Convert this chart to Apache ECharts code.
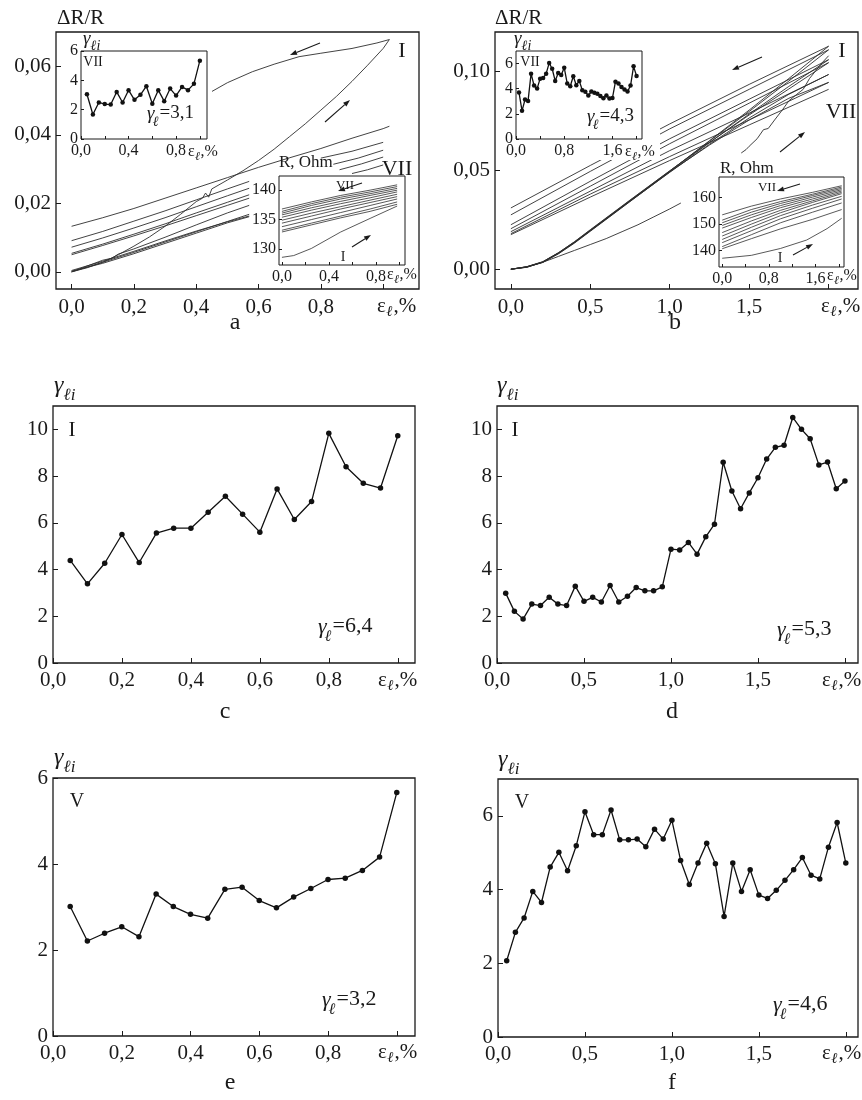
<!DOCTYPE html>
<html><head><meta charset="utf-8">
<script src="https://cdn.jsdelivr.net/npm/echarts@6/dist/echarts.min.js"></script>
<style>html,body{margin:0;padding:0;background:#fff}#c{width:862px;height:1100px}</style>
</head><body><div id="c"></div>
<script>
// ---------- DATA ----------
// Panel a (main): ΔR/R vs ε, cycles up to 1.0 %
const aLoadI = [[0,0],[0.05,0.0012],[0.1,0.0028],[0.15,0.005],[0.2,0.0075],[0.25,0.0102],[0.3,0.0133],[0.35,0.0168],[0.4,0.0205],[0.42,0.0215],[0.43,0.023],[0.44,0.0218],[0.45,0.0242],[0.5,0.0268],[0.55,0.0295],[0.6,0.0325],[0.65,0.0358],[0.7,0.0395],[0.75,0.0432],[0.8,0.0472],[0.85,0.0512],[0.9,0.0556],[0.95,0.0603],[1.0,0.0652],[1.02,0.0678]];
const aUnloadI = [[1.02,0.0678],[0.98,0.0668],[0.9,0.0652],[0.8,0.0638],[0.73,0.0628],[0.65,0.0606],[0.58,0.0584],[0.5,0.0552],[0.43,0.0516],[0.35,0.048],[0.25,0.044]];
const aCycleLong = [[0,0.0133],[0.1,0.0158],[0.2,0.0185],[0.3,0.0215],[0.4,0.0245],[0.5,0.0275],[0.6,0.0305],[0.7,0.0333],[0.8,0.036],[0.9,0.039],[1.0,0.0418],[1.02,0.0425]];
const aUp1 = [[0,0.0091],[0.1,0.0118],[0.2,0.0148],[0.3,0.0178],[0.4,0.021],[0.5,0.0242],[0.57,0.0264]];
const aUp2 = [[0,0.0072],[0.1,0.0099],[0.2,0.0128],[0.3,0.0158],[0.4,0.019],[0.5,0.0222],[0.57,0.0244]];
const aUp3 = [[0,0.0054],[0.1,0.0081],[0.2,0.011],[0.3,0.014],[0.4,0.0172],[0.5,0.0203],[0.57,0.0225]];
const aUp4 = [[0,0.005],[0.1,0.0077],[0.2,0.0105],[0.3,0.0134],[0.4,0.0164],[0.5,0.0194],[0.57,0.0215]];
const aLo1 = [[0,0],[0.1,0.0028],[0.2,0.0057],[0.3,0.0087],[0.4,0.0117],[0.5,0.0147],[0.57,0.0168]];
const aLo2 = [[0,0.0004],[0.1,0.0031],[0.2,0.006],[0.3,0.009],[0.4,0.0119],[0.5,0.0146],[0.57,0.0163]];
const aLo3 = [[0,0],[0.1,0.0034],[0.13,0.004],[0.15,0.0052],[0.2,0.0067],[0.3,0.0101],[0.4,0.0137],[0.5,0.0172],[0.57,0.0194]];
const aLo4 = [[0,0.0002],[0.1,0.0025],[0.2,0.0053],[0.3,0.0083],[0.4,0.0113],[0.5,0.0143],[0.57,0.0161]];
const aSeg1 = [[0.80,0.0332],[0.9,0.0352],[1.0,0.0378]];
const aSeg2 = [[0.84,0.0314],[0.92,0.0332],[1.0,0.0355]];
const aSeg3 = [[0.86,0.0298],[0.93,0.0315],[1.0,0.0335]];
const aSeg4 = [[0.9,0.0287],[0.95,0.0298],[1.0,0.0312]];
// Panel a inset: R, Ohm
const aRI = [[0,128.6],[0.1,128.9],[0.25,130.1],[0.5,132.9],[0.75,135.2],[0.98,137.3]];
const aR1 = [[0,136.8],[0.25,138.0],[0.5,139.1],[0.75,140.0],[0.98,140.9]];
const aR2 = [[0,136.4],[0.25,137.7],[0.5,138.8],[0.75,139.7],[0.98,140.6]];
const aR3 = [[0,136.1],[0.25,137.4],[0.5,138.5],[0.75,139.4],[0.98,140.3]];
const aR4 = [[0,135.8],[0.25,137.0],[0.5,138.1],[0.75,139.1],[0.98,140.0]];
const aR5 = [[0,135.4],[0.25,136.6],[0.5,137.7],[0.75,138.7],[0.98,139.7]];
const aR6 = [[0,134.9],[0.25,136.1],[0.5,137.2],[0.75,138.3],[0.98,139.3]];
const aR7 = [[0,134.4],[0.25,135.6],[0.5,136.8],[0.75,137.9],[0.98,138.9]];
const aR8 = [[0,133.8],[0.25,135.0],[0.5,136.2],[0.75,137.4],[0.98,138.5]];
const aR9 = [[0,133.2],[0.25,134.4],[0.5,135.6],[0.75,136.8],[0.98,138.0]];
const aR10 = [[0,132.9],[0.25,134.1],[0.5,135.3],[0.75,136.4],[0.98,137.6]];
// Panel b (main)
const bLoad1 = [[0,0],[0.1,0.001],[0.2,0.0035],[0.3,0.008],[0.4,0.0135],[0.5,0.0195],[0.75,0.0345],[1.0,0.0495],[1.25,0.065],[1.5,0.0805],[1.75,0.0965],[2.0,0.1128]];
const bLoad2 = [[0,0],[0.1,0.0012],[0.2,0.0037],[0.3,0.0083],[0.4,0.0138],[0.5,0.0198],[0.75,0.0348],[1.0,0.0497],[1.25,0.0648],[1.5,0.0798],[1.75,0.0952],[2.0,0.111]];
const bLoad3 = [[0,0],[0.1,0.0011],[0.2,0.0034],[0.3,0.0078],[0.4,0.0132],[0.5,0.0192],[0.75,0.0342],[1.0,0.0492],[1.25,0.0640],[1.5,0.0785],[1.75,0.0925],[2.0,0.106]];
const bLoad4 = [[0,0],[0.1,0.0013],[0.2,0.0038],[0.3,0.0084],[0.4,0.0139],[0.5,0.02],[0.75,0.035],[1.0,0.0498],[1.25,0.0642],[1.5,0.0780],[1.75,0.0912],[2.0,0.1045]];
const bLoad5 = [[0,0],[0.1,0.001],[0.2,0.0036],[0.3,0.0081],[0.4,0.0134],[0.5,0.0194],[0.75,0.0344],[1.0,0.049],[1.25,0.0632],[1.5,0.0765],[1.75,0.0885],[2.0,0.0985]];
const bLoad6 = [[0,0],[0.1,0.0012],[0.2,0.0036],[0.3,0.0082],[0.4,0.0136],[0.5,0.0196],[0.75,0.0346],[1.0,0.0493],[1.25,0.0628],[1.5,0.0755],[1.75,0.0865],[2.0,0.0945]];
const bLoadI1 = [[0,0],[0.1,0.0012],[0.2,0.0035],[0.3,0.0065],[0.4,0.0095],[0.5,0.0125],[0.6,0.0155],[0.7,0.019],[0.8,0.0225],[0.9,0.0265],[1.0,0.0305],[1.07,0.0335]];
const bLoadI2 = [[1.45,0.0588],[1.48,0.0605],[1.5,0.0622],[1.55,0.066],[1.59,0.0706],[1.62,0.0712],[1.66,0.0755],[1.71,0.0807],[1.75,0.0852],[1.8,0.0885],[1.84,0.091],[1.88,0.0965],[1.92,0.1005],[1.96,0.1045],[2.0,0.108]];
const bUn1 = [[2.0,0.1128],[1.5,0.0935],[1.0,0.0735],[0.5,0.0525],[0,0.031]];
const bUn2 = [[2.0,0.111],[1.5,0.091],[1.0,0.071],[0.5,0.0495],[0,0.0275]];
const bUn3 = [[2.0,0.106],[1.5,0.086],[1.0,0.066],[0.5,0.0445],[0,0.0225]];
const bUn4 = [[2.0,0.1045],[1.5,0.084],[1.0,0.0635],[0.5,0.042],[0,0.0205]];
const bUn5 = [[2.0,0.0985],[1.5,0.079],[1.0,0.06],[0.5,0.0395],[0,0.019]];
const bUn6 = [[2.0,0.0945],[1.5,0.0755],[1.0,0.057],[0.5,0.038],[0,0.018]];
const bUn7 = [[2.0,0.091],[1.5,0.073],[1.0,0.055],[0.5,0.0365],[0,0.0175]];
// Panel b inset: R, Ohm
const bRI = [[0,137.1],[0.5,138.2],[1.0,140.8],[1.45,144.0],[1.8,148.3],[2.05,152.2]];
const bR1 = [[0,140.7],[0.5,144.5],[1.0,148.2],[1.55,151.8],[2.05,155.5]];
const bR2 = [[0,141.5],[0.5,146.0],[1.0,150.5],[1.55,154.5],[2.05,158.0]];
const bR3 = [[0,143.0],[0.5,147.5],[1.0,152.0],[1.55,156.0],[2.05,159.5]];
const bR4 = [[0,144.2],[0.5,148.8],[1.0,153.2],[1.55,157.2],[2.05,160.5]];
const bR5 = [[0,145.5],[0.5,150.0],[1.0,154.3],[1.55,158.2],[2.05,161.5]];
const bR6 = [[0,146.8],[0.5,151.2],[1.0,155.2],[1.55,158.8],[2.05,162.0]];
const bR7 = [[0,148.5],[0.5,152.5],[1.0,156.2],[1.55,159.5],[2.05,162.5]];
const bR8 = [[0,149.5],[0.5,153.5],[1.0,157.0],[1.55,160.2],[2.05,163.0]];
const bR9 = [[0,150.5],[0.5,154.5],[1.0,157.8],[1.55,160.8],[2.05,163.5]];
const bR10 = [[0,151.5],[0.5,155.5],[1.0,158.5],[1.55,161.3],[2.05,164.0]];
const bR11 = [[0,153.5],[0.5,156.8],[1.0,159.5],[1.55,162.0],[2.05,164.5]];
// γ_ℓi series
const eps20 = [0.05,0.10,0.15,0.20,0.25,0.30,0.35,0.40,0.45,0.50,0.55,0.60,0.65,0.70,0.75,0.80,0.85,0.90,0.95,1.00];
const eps40 = [0.05,0.10,0.15,0.20,0.25,0.30,0.35,0.40,0.45,0.50,0.55,0.60,0.65,0.70,0.75,0.80,0.85,0.90,0.95,1.00,1.05,1.10,1.15,1.20,1.25,1.30,1.35,1.40,1.45,1.50,1.55,1.60,1.65,1.70,1.75,1.80,1.85,1.90,1.95,2.00];
const gammaInsetA = [3.05,1.67,2.49,2.38,2.35,3.21,2.49,3.33,2.67,3.01,3.60,2.40,3.33,2.58,3.44,2.96,3.55,3.33,3.76,5.34];
const gammaInsetB = [3.69,2.24,3.14,3.03,5.2,4.25,4.01,4.8,4.85,5.2,6.04,5.59,4.62,5.25,5.09,5.67,4.41,4.2,4.99,4.27,4.62,3.88,3.75,3.46,3.77,3.67,3.59,3.43,3.25,3.46,3.22,3.27,4.56,4.41,4.14,3.93,3.77,4.25,5.78,5.01];
const gammaC = [4.39,3.39,4.27,5.5,4.3,5.56,5.77,5.77,6.45,7.14,6.37,5.6,7.45,6.14,6.91,9.83,8.4,7.69,7.49,9.73];
const gammaD = [2.99,2.21,1.88,2.52,2.46,2.81,2.52,2.46,3.29,2.64,2.81,2.61,3.32,2.61,2.86,3.23,3.09,3.09,3.26,4.87,4.84,5.16,4.66,5.4,5.94,8.59,7.36,6.6,7.28,7.93,8.73,9.23,9.32,10.51,10.0,9.6,8.48,8.6,7.46,7.79];
const gammaE = [3.01,2.21,2.39,2.54,2.31,3.30,3.01,2.83,2.74,3.41,3.46,3.15,2.98,3.23,3.43,3.64,3.67,3.85,4.16,5.66];
const gammaF = [2.07,2.84,3.23,3.95,3.65,4.61,5.01,4.51,5.19,6.11,5.49,5.49,6.16,5.35,5.35,5.37,5.16,5.64,5.37,5.88,4.79,4.14,4.72,5.26,4.70,3.27,4.72,3.95,4.54,3.85,3.76,3.98,4.25,4.54,4.87,4.39,4.29,5.15,5.82,4.72];
// tick values
const ticksX1 = [0,0.2,0.4,0.6,0.8,1.0];
const labelsX1 = [0,0.2,0.4,0.6,0.8];
const ticksX2 = [0,0.5,1.0,1.5,2.0];
const labelsX2 = [0,0.5,1.0,1.5];
const ticksXb = [0,0.4,0.8,1.2,1.6,2.0];
const ticksYa = [0,0.02,0.04,0.06];
const ticksYb = [0,0.05,0.10];
const ticksYcd = [0,2,4,6,8,10];
const ticksY6 = [0,2,4,6];
const insetXa = [0,0.4,0.8];
const insetXb = [0,0.8,1.6];
const ticksRa = [130,135,140];
const ticksRb = [140,150,160];

// ---------- BUILD ----------
const F = '"Liberation Serif","DejaVu Serif",serif';
const INK = '#1a1a1a';
const grid = [], xAxis = [], yAxis = [], series = [], graphic = [];
const comma = d => v => v.toFixed(d).replace('.', ',');
const pair = (xs, ys) => xs.map((x, i) => [x, ys[i]]);

function panel(o) {
  const gi = grid.length;
  const inset = !!o.inset;
  grid.push({left:o.l, top:o.t, width:o.w, height:o.h, show:true, borderColor:INK,
    borderWidth: inset ? 1 : 1.3, backgroundColor: inset ? '#fff' : 'transparent', z: inset ? 10 : 0});
  const z = inset ? 11 : 0;
  const tl = inset ? 3 : 5;
  xAxis.push({type:'value', gridIndex:gi, min:o.x[0], max:o.x[1], z, position:'bottom',
    axisLine:{show:false, onZero:false}, splitLine:{show:false},
    axisTick:{show:true, inside:true, length:tl, customValues:o.xt, lineStyle:{color:INK, width:1}},
    axisLabel:{customValues:o.xl, formatter:o.xf, fontFamily:F, fontSize:o.fs, color:INK, margin:o.m}});
  yAxis.push({type:'value', gridIndex:gi, min:o.y[0], max:o.y[1], z, position:'left',
    axisLine:{show:false, onZero:false}, splitLine:{show:false},
    axisTick:{show:true, inside:true, length:tl, customValues:o.yt, lineStyle:{color:INK, width:1}},
    axisLabel:{customValues:o.yl || o.yt, formatter:o.yf, fontFamily:F, fontSize:o.fs, color:INK, margin:o.ym}});
  return gi;
}
function curve(gi, data, z, w) {
  series.push({type:'line', xAxisIndex:gi, yAxisIndex:gi, data, symbol:'none', silent:true, animation:false,
    lineStyle:{color:'#2e2e2e', width:w || 0.9}, z: z || 2});
}
function gammaLine(gi, xs, ys, size, z) {
  series.push({type:'line', xAxisIndex:gi, yAxisIndex:gi, data:pair(xs, ys), symbol:'circle', symbolSize:size,
    itemStyle:{color:'#111'}, lineStyle:{color:'#111', width:1.3}, z: z || 2, animation:false, silent:true});
}
function txt(x, y, text, size, opt) {
  opt = opt || {};
  graphic.push({type:'text', x, y, z: opt.z || 20, silent:true,
    style:{text, font:(opt.italic ? 'italic ' : '') + size + 'px ' + F, fill:INK,
      textAlign:opt.align || 'left', textVerticalAlign:'middle', align:opt.align || 'left', verticalAlign:'middle'}});
}
function eps(x, y, s) {
  txt(x, y, 'ε', s);
  txt(x + s * 0.44, y + s * 0.3, 'ℓ', Math.round(s * 0.72), {italic:true});
  txt(x + s * 0.78, y, ',%', s);
}
function gammaAxis(x, y, s) {
  txt(x, y, 'γ', s, {italic:true});
  txt(x + s * 0.4, y + s * 0.38, 'ℓi', Math.round(s * 0.72), {italic:true});
}
function gammaEq(x, y, val, s) {
  txt(x, y, 'γ', s, {italic:true});
  txt(x + s * 0.3, y + s * 0.45, 'ℓ', Math.round(s * 0.72), {italic:true});
  txt(x + s * 0.66, y - s * 0.05, '=' + val, s);
}
function arrow(x1, y1, x2, y2) {
  const dx = x2 - x1, dy = y2 - y1, L = Math.hypot(dx, dy), ux = dx / L, uy = dy / L;
  const hl = 7, hw = 2.5, bx = x2 - ux * hl, by = y2 - uy * hl;
  graphic.push({type:'line', z:20, silent:true, shape:{x1, y1, x2:bx, y2:by}, style:{stroke:INK, lineWidth:1.1}});
  graphic.push({type:'polygon', z:20, silent:true,
    shape:{points:[[x2, y2], [bx - uy * hw, by + ux * hw], [bx + uy * hw, by - ux * hw]]}, style:{fill:INK}});
}
function cover(x, y, w, h) {
  graphic.push({type:'rect', z:9, silent:true, shape:{x, y, width:w, height:h}, style:{fill:'#fff'}});
}

// --- panel a ---
const gA = panel({l:56, t:32, w:363, h:257, x:[-0.05, 1.115], y:[-0.005, 0.07],
  xt:ticksX1, xl:labelsX1, xf:comma(1), yt:ticksYa, yf:comma(2), fs:21, m:8, ym:5});
[aLo1, aLo2, aLo3, aLo4, aUp1, aUp2, aUp3, aUp4, aCycleLong, aSeg1, aSeg2, aSeg3, aSeg4, aLoadI, aUnloadI].forEach(d => curve(gA, d));
cover(62, 46, 150, 114);
cover(250, 176, 158, 108);
const gAi = panel({inset:true, l:81, t:51, w:126, h:88, x:[0, 1.06], y:[0, 6],
  xt:ticksX1, xl:insetXa, xf:comma(1), yt:ticksY6, yf:v => String(v), fs:16, m:4, ym:3});
gammaLine(gAi, eps20, gammaInsetA, 4.5, 12);
const gAr = panel({inset:true, l:279, t:176, w:126, h:89, x:[-0.025, 1.047], y:[127.3, 142.4],
  xt:ticksX1, xl:insetXa, xf:comma(1), yt:ticksRa, yf:v => String(v), fs:16, m:4, ym:3});
[aRI, aR1, aR2, aR3, aR4, aR5, aR6, aR7, aR8, aR9, aR10].forEach(d => curve(gAr, d, 12, 0.8));

// --- panel b ---
const gB = panel({l:495, t:32, w:363, h:257, x:[-0.1, 2.185], y:[-0.01, 0.12],
  xt:ticksX2, xl:labelsX2, xf:comma(1), yt:ticksYb, yf:comma(2), fs:21, m:8, ym:5});
[bLoad1, bLoad2, bLoad3, bLoad4, bLoad5, bLoad6, bLoadI1, bLoadI2, bUn1, bUn2, bUn3, bUn4, bUn5, bUn6, bUn7].forEach(d => curve(gB, d));
cover(500, 46, 160, 114);
cover(688, 160, 160, 124);
const gBi = panel({inset:true, l:516, t:51, w:126, h:88, x:[0, 2.09], y:[0, 7],
  xt:ticksXb, xl:insetXb, xf:comma(1), yt:ticksY6, yf:v => String(v), fs:16, m:4, ym:3});
gammaLine(gBi, eps40, gammaInsetB, 4.5, 12);
const gBr = panel({inset:true, l:719, t:177, w:125, h:90, x:[-0.055, 2.09], y:[133.8, 167.8],
  xt:ticksXb, xl:insetXb, xf:comma(1), yt:ticksRb, yf:v => String(v), fs:16, m:4, ym:3});
[bRI, bR1, bR2, bR3, bR4, bR5, bR6, bR7, bR8, bR9, bR10, bR11].forEach(d => curve(gBr, d, 12, 0.8));

// --- panels c-f ---
const gC = panel({l:53, t:406, w:362, h:257, x:[0, 1.05], y:[0, 11],
  xt:ticksX1, xl:labelsX1, xf:comma(1), yt:ticksYcd, yf:v => String(v), fs:21, m:7, ym:5});
gammaLine(gC, eps20, gammaC, 5.5);
const gD = panel({l:497, t:406, w:361, h:257, x:[0, 2.075], y:[0, 11],
  xt:ticksX2, xl:labelsX2, xf:comma(1), yt:ticksYcd, yf:v => String(v), fs:21, m:7, ym:5});
gammaLine(gD, eps40, gammaD, 5.5);
const gE = panel({l:53, t:778, w:362, h:258, x:[0, 1.053], y:[0, 6],
  xt:ticksX1, xl:labelsX1, xf:comma(1), yt:ticksY6, yf:v => String(v), fs:21, m:7, ym:5});
gammaLine(gE, eps20, gammaE, 5.5);
const gF = panel({l:498, t:779, w:360, h:258, x:[0, 2.07], y:[0, 7],
  xt:ticksX2, xl:labelsX2, xf:comma(1), yt:ticksY6, yf:v => String(v), fs:21, m:7, ym:5});
gammaLine(gF, eps40, gammaF, 5.5);

// ---------- ANNOTATIONS ----------
txt(57, 18, 'ΔR/R', 21);
txt(495, 18, 'ΔR/R', 21);
eps(377, 306, 21); eps(821, 306, 21);
eps(378, 680, 21); eps(822, 680, 21);
eps(378, 1052, 21); eps(822, 1053, 21);
eps(188, 152, 16); eps(387, 275, 16);
eps(625, 152, 16); eps(827, 276, 16);
gammaAxis(54, 386, 24); gammaAxis(497, 386, 24);
gammaAxis(54, 758, 24); gammaAxis(498, 760, 24);
gammaAxis(83, 39, 19); gammaAxis(514, 39, 19);
gammaEq(318, 627, '6,4', 22); gammaEq(777, 630, '5,3', 22);
gammaEq(322, 1000, '3,2', 22); gammaEq(773, 1005, '4,6', 22);
gammaEq(147, 114, '3,1', 19); gammaEq(587, 117, '4,3', 19);
txt(402, 51, 'I', 22, {align:'center'});
txt(397, 169, 'VII', 22, {align:'center'});
txt(842, 51, 'I', 22, {align:'center'});
txt(841, 112, 'VII', 22, {align:'center'});
txt(72, 430, 'I', 21, {align:'center'});
txt(515, 430, 'I', 21, {align:'center'});
txt(77, 802, 'V', 20, {align:'center'});
txt(522, 803, 'V', 20, {align:'center'});
txt(93, 62, 'VII', 14, {align:'center'});
txt(530, 62, 'VII', 14, {align:'center'});
txt(345, 186, 'VII', 13, {align:'center'});
txt(343, 257, 'I', 14, {align:'center'});
txt(767, 188, 'VII', 13, {align:'center'});
txt(780, 258, 'I', 14, {align:'center'});
txt(279, 163, 'R, Ohm', 17);
txt(720, 169, 'R, Ohm', 17);
arrow(320, 43, 290, 55);
arrow(325, 122, 350, 100);
arrow(362, 183, 338, 191);
arrow(352, 247, 371, 235);
arrow(762, 57, 732, 70);
arrow(780, 152, 805, 132);
arrow(800, 184, 777, 191);
arrow(793, 255, 813, 244);
txt(235, 323, 'a', 24, {align:'center'});
txt(675, 323, 'b', 24, {align:'center'});
txt(225, 712, 'c', 24, {align:'center'});
txt(672, 712, 'd', 24, {align:'center'});
txt(230, 1083, 'e', 24, {align:'center'});
txt(672, 1083, 'f', 24, {align:'center'});

const chart = echarts.init(document.getElementById('c'), null, {renderer:'canvas'});
chart.setOption({animation:false, backgroundColor:'#fff', grid, xAxis, yAxis, series, graphic:{elements:graphic}});
</script>
</body></html>
